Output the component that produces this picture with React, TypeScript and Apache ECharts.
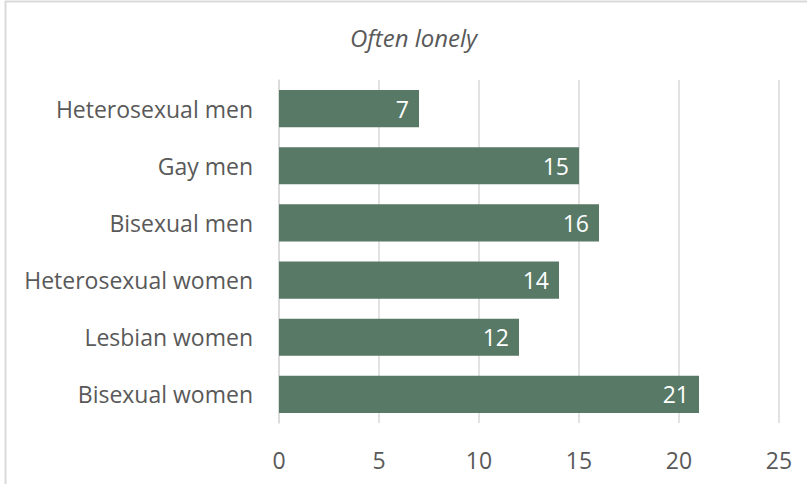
import React, { useEffect, useRef } from "react";
import * as echarts from "echarts";

const categories = [
  "Heterosexual men",
  "Gay men",
  "Bisexual men",
  "Heterosexual women",
  "Lesbian women",
  "Bisexual women",
];
const values = [7, 15, 16, 14, 12, 21];
const titleText = "Often lonely";

export default function App() {
  const ref = useRef<HTMLDivElement>(null);
  useEffect(() => {
    if (!ref.current) return;
    const chart = echarts.init(ref.current, null, { renderer: "svg" });
    const font = "Open Sans";
    chart.setOption({
      animation: false,
      backgroundColor: "#ffffff",
      title: {
        text: titleText,
        left: 345,
        top: 20,
        textStyle: {
          fontFamily: font,
          fontStyle: "italic",
          fontWeight: "normal",
          fontSize: 24,
          color: "#595959",
        },
      },
      graphic: [
        {
          type: "rect",
          shape: { x: 5.5, y: 1.5, width: 820, height: 520 },
          style: { fill: "none", stroke: "#d9d9d9", lineWidth: 2 },
          silent: true,
        },
      ],
      grid: { left: 279, right: 28, top: 80, bottom: 61, containLabel: false },
      xAxis: {
        type: "value",
        min: 0,
        max: 25,
        interval: 5,
        axisLine: { show: false },
        axisTick: { show: false },
        splitLine: { show: true, lineStyle: { color: "#d9d9d9", width: 1.5 } },
        axisLabel: {
          fontFamily: font,
          fontSize: 23,
          color: "#595959",
          margin: 25,
        },
      },
      yAxis: {
        type: "category",
        data: categories,
        inverse: true,
        axisLine: { show: true, lineStyle: { color: "#d9d9d9", width: 1.5 } },
        axisTick: { show: false },
        axisLabel: {
          fontFamily: font,
          fontSize: 23,
          color: "#595959",
          margin: 26,
        },
      },
      series: [
        {
          type: "bar",
          data: values,
          barWidth: "65%",
          itemStyle: { color: "#587966" },
          label: {
            show: true,
            position: "insideRight",
            distance: 10,
            color: "#ffffff",
            fontFamily: font,
            fontSize: 23,
          },
        },
      ],
    });
    return () => chart.dispose();
  }, []);
  return (
    <div
      ref={ref}
      style={{ position: "fixed", left: 0, top: 0, width: 807, height: 484 }}
    />
  );
}
